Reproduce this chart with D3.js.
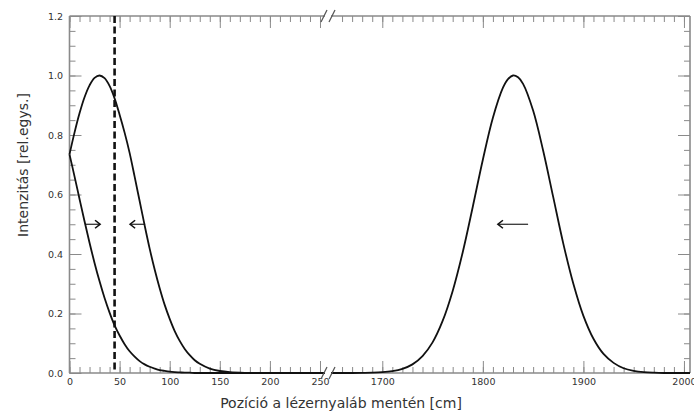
<!DOCTYPE html>
<html>
<head>
<meta charset="utf-8">
<script src="https://cdn.jsdelivr.net/npm/d3@7"></script>
<style>
  html, body { margin: 0; padding: 0; background: #fff; }
  svg { display: block; }
  text { font-family: "DejaVu Sans", sans-serif; fill: #333; }
</style>
</head>
<body>
<svg id="chart" width="694" height="412"></svg>
<script>
// Beam positions along the laser path [cm], left segment of the broken axis
const posLeft = [0, 5, 10, 15, 20, 25, 30, 35, 40, 45, 50, 55, 60, 65, 70, 75, 80, 85, 90, 95,
                 100, 105, 110, 115, 120, 125, 130, 140, 150, 160, 175, 200, 230, 255];
// Pulse travelling towards +x (decaying from the start)
const beamA = [0.735, 0.661, 0.585, 0.510, 0.438, 0.370, 0.308, 0.252, 0.203, 0.160, 0.126, 0.097,
               0.073, 0.055, 0.040, 0.029, 0.021, 0.015, 0.010, 0.007, 0.0045, 0.003, 0.002, 0.001,
               0.001, 0, 0, 0, 0, 0, 0, 0, 0, 0];
// Pulse travelling back towards the start
const beamB = [0.735, 0.808, 0.873, 0.927, 0.967, 0.992, 1.000, 0.991, 0.965, 0.923, 0.868, 0.808,
               0.740, 0.660, 0.578, 0.496, 0.418, 0.348, 0.285, 0.229, 0.182, 0.141, 0.108, 0.081,
               0.060, 0.043, 0.031, 0.015, 0.0067, 0.0028, 0.0007, 0, 0, 0];
// Right segment of the broken axis
const posRight = [1649, 1660, 1670, 1680, 1690, 1700, 1710, 1720, 1730, 1740, 1750, 1760, 1770,
                  1780, 1790, 1800, 1810, 1820, 1825, 1830, 1835, 1840, 1850, 1860, 1870, 1880, 1890,
                  1900, 1910, 1920, 1930, 1940, 1950, 1960, 1970, 1980, 1990, 2006];
const beamC = [0, 0, 0, 0.0004, 0.001, 0.0026, 0.0063, 0.014, 0.029, 0.057, 0.103, 0.175, 0.276,
               0.406, 0.559, 0.717, 0.858, 0.959, 0.988, 1.000, 0.994, 0.972, 0.882, 0.747, 0.591,
               0.435, 0.300, 0.192, 0.115, 0.064, 0.034, 0.016, 0.0074, 0.003, 0.001, 0, 0, 0];

// Tick labels
const yTicks = [0, 0.2, 0.4, 0.6, 0.8, 1.0, 1.2];
const xTicksLeft = [0, 50, 100, 150, 200, 250];
const xTicksRight = [1700, 1800, 1900, 2000];

// Marker position (dashed line) and direction arrows [from, to, level]
const markerPos = 45;
const arrowsLeft = [[15.5, 30.5, 0.5], [75.5, 60.5, 0.5]];
const arrowsRight = [[1845, 1815, 0.5]];

const svg = d3.select("#chart");
const yTop = 16, yBot = 373;
const xL = d3.scaleLinear().domain([0, 255]).range([69.5, 325]);
const xR = d3.scaleLinear().domain([1649, 2006]).range([331, 690]);
const y = d3.scaleLinear().domain([0, 1.2]).range([yBot, yTop]);

const gray = "#8a8a8a";
const major = 12, minor = 6;

function rng(a, b, s) { return d3.range(a, b + s / 2, s); }

// --- tick marks (inward-pointing) ---
function styleAxis(g) {
  g.select(".domain").remove();
  g.selectAll(".tick line").attr("stroke", gray).attr("stroke-width", 1);
  g.selectAll(".tick text").attr("font-size", 9.5).attr("fill", "#333")
    .style("font-family", "DejaVu Sans, sans-serif");
}

// bottom axis, left segment
svg.append("g").attr("transform", `translate(0,${yBot})`)
  .call(d3.axisBottom(xL).tickValues(rng(0, 250, 10)).tickFormat("").tickSizeInner(-minor).tickSizeOuter(0)).call(styleAxis);
svg.append("g").attr("transform", `translate(0,${yBot})`)
  .call(d3.axisBottom(xL).tickValues(xTicksLeft).tickFormat(d3.format("d")).tickSizeInner(-major).tickSizeOuter(0).tickPadding(5.5)).call(styleAxis);
// bottom axis, right segment
svg.append("g").attr("transform", `translate(0,${yBot})`)
  .call(d3.axisBottom(xR).tickValues(rng(1660, 2000, 10)).tickFormat("").tickSizeInner(-minor).tickSizeOuter(0)).call(styleAxis);
svg.append("g").attr("transform", `translate(0,${yBot})`)
  .call(d3.axisBottom(xR).tickValues(xTicksRight).tickFormat(d3.format("d")).tickSizeInner(-major).tickSizeOuter(0).tickPadding(5.5)).call(styleAxis);
// top axis
svg.append("g").attr("transform", `translate(0,${yTop})`)
  .call(d3.axisTop(xL).tickValues(rng(0, 250, 10)).tickFormat("").tickSizeInner(-minor).tickSizeOuter(0)).call(styleAxis);
svg.append("g").attr("transform", `translate(0,${yTop})`)
  .call(d3.axisTop(xL).tickValues(xTicksLeft).tickFormat("").tickSizeInner(-major).tickSizeOuter(0)).call(styleAxis);
svg.append("g").attr("transform", `translate(0,${yTop})`)
  .call(d3.axisTop(xR).tickValues(rng(1660, 2000, 10)).tickFormat("").tickSizeInner(-minor).tickSizeOuter(0)).call(styleAxis);
svg.append("g").attr("transform", `translate(0,${yTop})`)
  .call(d3.axisTop(xR).tickValues(xTicksRight).tickFormat("").tickSizeInner(-major).tickSizeOuter(0)).call(styleAxis);
// left axis
svg.append("g").attr("transform", `translate(${xL(0)},0)`)
  .call(d3.axisLeft(y).tickValues(rng(0, 1.2, 0.05)).tickFormat("").tickSizeInner(-minor).tickSizeOuter(0)).call(styleAxis);
svg.append("g").attr("transform", `translate(${xL(0)},0)`)
  .call(d3.axisLeft(y).tickValues(yTicks).tickFormat(d3.format(".1f")).tickSizeInner(-major).tickSizeOuter(0).tickPadding(6.5)).call(styleAxis);
// right axis
svg.append("g").attr("transform", `translate(${xR(2006)},0)`)
  .call(d3.axisRight(y).tickValues(rng(0, 1.2, 0.05)).tickFormat("").tickSizeInner(-minor).tickSizeOuter(0)).call(styleAxis);
svg.append("g").attr("transform", `translate(${xR(2006)},0)`)
  .call(d3.axisRight(y).tickValues(yTicks).tickFormat("").tickSizeInner(-major).tickSizeOuter(0)).call(styleAxis);

// --- frame with a gap at the axis break ---
const spine = svg.append("g").attr("stroke", gray).attr("stroke-width", 1.6).attr("fill", "none");
[[xL.range()[0], xL.range()[1]], [xR.range()[0], xR.range()[1]]].forEach(([a, b]) => {
  spine.append("line").attr("x1", a).attr("x2", b).attr("y1", yTop).attr("y2", yTop);
  spine.append("line").attr("x1", a).attr("x2", b).attr("y1", yBot).attr("y2", yBot);
});
spine.append("line").attr("x1", xL(0)).attr("x2", xL(0)).attr("y1", yTop).attr("y2", yBot);
spine.append("line").attr("x1", xR(2006)).attr("x2", xR(2006)).attr("y1", yTop).attr("y2", yBot);

// --- intensity curves ---
const curves = svg.append("g").attr("fill", "none").attr("stroke", "#111").attr("stroke-width", 1.8);
function drawSeries(xs, ys, sx) {
  const line = d3.line().x((d, i) => sx(xs[i])).y(d => y(d)).curve(d3.curveCatmullRom.alpha(0.5));
  curves.append("path").attr("d", line(ys));
}
drawSeries(posLeft, beamA, xL);
drawSeries(posLeft, beamB, xL);
drawSeries(posRight, beamC, xR);

// --- break marks ---
const brk = svg.append("g").attr("stroke", "#555").attr("stroke-width", 1.2);
[yTop, yBot].forEach(yy => {
  [xL.range()[1] - 1, xR.range()[0] + 1].forEach(cx => {
    brk.append("line").attr("x1", cx - 3).attr("y1", yy + 6).attr("x2", cx + 3).attr("y2", yy - 6);
  });
});

// --- dashed marker ---
svg.append("line")
  .attr("x1", xL(markerPos)).attr("x2", xL(markerPos))
  .attr("y1", yTop).attr("y2", yBot)
  .attr("stroke", "#111").attr("stroke-width", 2.6).attr("stroke-dasharray", "7,3.5");

// --- direction arrows ---
const arr = svg.append("g").attr("stroke", "#111").attr("fill", "none").attr("stroke-width", 1.1);
function arrow(sx, [from, to, lvl]) {
  const x1 = sx(from), x2 = sx(to), yy = y(lvl);
  const dir = Math.sign(x2 - x1);
  arr.append("line").attr("x1", x1).attr("x2", x2).attr("y1", yy).attr("y2", yy);
  arr.append("path")
    .attr("d", `M${x2 - dir * 5},${yy - 4} L${x2},${yy} L${x2 - dir * 5},${yy + 4}`)
    .attr("stroke-width", 1.6);
}
arrowsLeft.forEach(a => arrow(xL, a));
arrowsRight.forEach(a => arrow(xR, a));

// --- axis titles ---
svg.append("text")
  .attr("x", 341).attr("y", 408)
  .attr("text-anchor", "middle").attr("font-size", 14)
  .text("Pozíció a lézernyaláb mentén [cm]");
svg.append("text")
  .attr("transform", "translate(28,165) rotate(-90)")
  .attr("text-anchor", "middle").attr("font-size", 14)
  .text("Intenzitás [rel.egys.]");
</script>
</body>
</html>
